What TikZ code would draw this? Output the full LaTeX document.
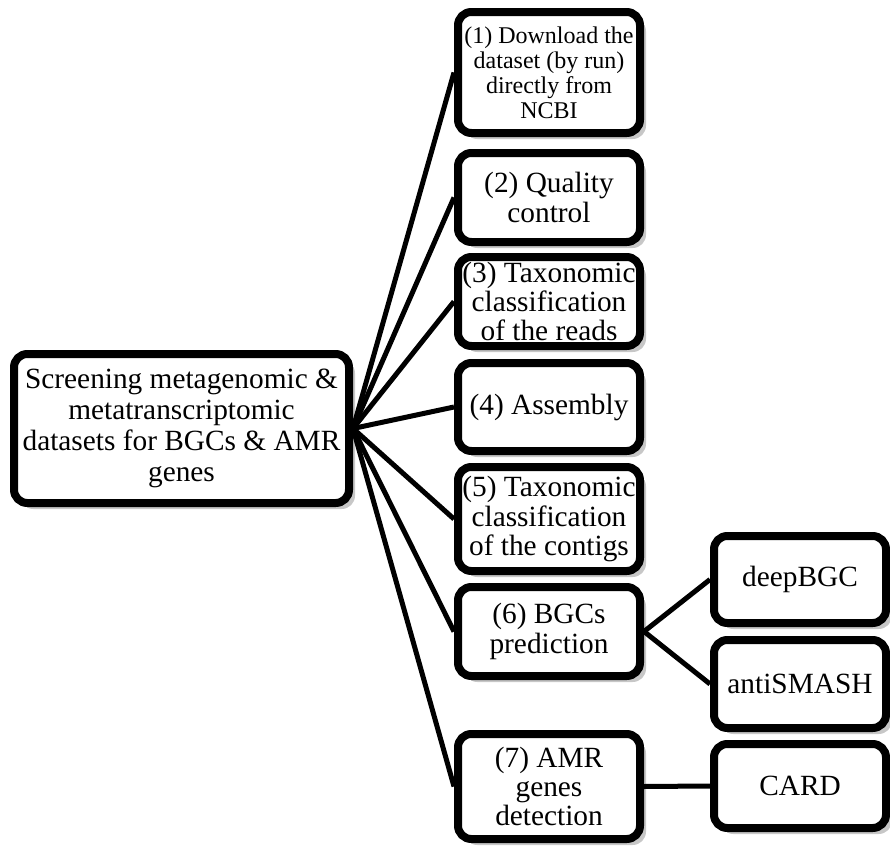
\documentclass[tikz,border=0pt]{standalone}
\usepackage{fontspec}
\setmainfont{Liberation Serif}
\usetikzlibrary{shadows}

\begin{document}
\begin{tikzpicture}[x=0.75pt,y=-0.75pt,
  box/.style={draw, line width=6pt, rounded corners=10pt, fill=white, align=center, inner sep=1pt,
    font=\fontsize{22}{22}\selectfont,
    drop shadow={shadow xshift=4.5pt, shadow yshift=-4.5pt, fill=black, opacity=0.22}},
  stagebox/.style={box, minimum width=136.5pt},
  toolbox/.style={box, minimum width=129pt},
  link/.style={line width=3.75pt}]
\useasboundingbox (0,0) rectangle (890,846);

% main task
\node[box, minimum width=251.25pt, minimum height=111.75pt, font=\fontsize{22}{23.25}\selectfont] (main) at (181.5,428.5)
  {Screening metagenomic \&\\metatranscriptomic\\datasets for BGCs \& AMR\\genes};

% pipeline stages
\node[stagebox, minimum height=90.75pt, font=\fontsize{18}{18.75}\selectfont] (s1) at (549,72.5)
  {(1) Download the\\dataset (by run)\\directly from\\NCBI};
\node[stagebox, minimum height=66.75pt] (s2) at (549,197.5) {(2) Quality\\control};
\node[stagebox, minimum height=66.75pt] (s3) at (549,301.5) {(3) Taxonomic\\classification\\of the reads};
\node[stagebox, minimum height=66pt] (s4) at (549,407) {(4) Assembly};
\node[stagebox, minimum height=78pt] (s5) at (549,519) {(5) Taxonomic\\classification\\of the contigs};
\node[stagebox, minimum height=66.75pt] (s6) at (549,631.5) {(6) BGCs\\prediction};
\node[stagebox, minimum height=78.75pt] (s7) at (549,786.5) {(7) AMR\\genes\\detection};

% tools
\node[toolbox, minimum height=65.25pt] (deep) at (800,579.5) {deepBGC};
\node[toolbox, minimum height=66pt] (anti) at (800,684) {antiSMASH};
\node[toolbox, minimum height=63pt] (card) at (800,786) {CARD};

\foreach \s in {s1,s2,s3,s4,s5,s6,s7}
  \draw[link] (main.east) -- (\s.west);
\draw[link] (s6.east) -- (deep.west);
\draw[link] (s6.east) -- (anti.west);
\draw[link] (s7.east) -- (card.west);
\end{tikzpicture}
\end{document}
